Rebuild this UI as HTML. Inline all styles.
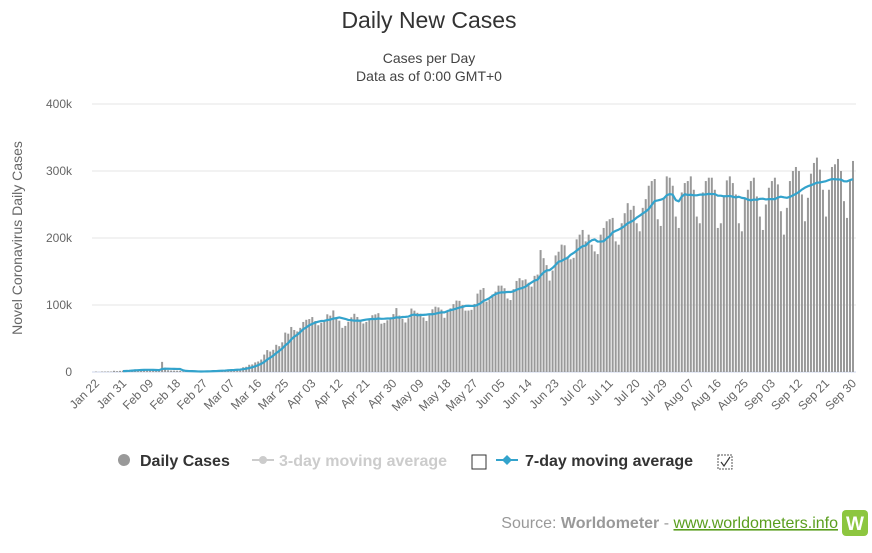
<!DOCTYPE html>
<html><head><meta charset="utf-8"><style>
body{margin:0;background:#fff;font-family:"Liberation Sans",sans-serif;}
svg text{font-family:"Liberation Sans",sans-serif;}
</style></head><body>
<svg id="chart" width="872" height="548" viewBox="0 0 872 548" xmlns="http://www.w3.org/2000/svg">
<text x="429" y="28" text-anchor="middle" font-size="23" fill="#333">Daily New Cases</text>
<text x="429" y="63" text-anchor="middle" font-size="14" fill="#444">Cases per Day</text>
<text x="429" y="81" text-anchor="middle" font-size="14" fill="#444">Data as of 0:00 GMT+0</text>
<text transform="translate(22,238) rotate(-90)" text-anchor="middle" font-size="14" fill="#666">Novel Coronavirus Daily Cases</text>
<g id="grid"></g><g id="bars"></g><g id="line"></g><g id="xlabels"></g>
<g>
<g><circle cx="124" cy="460" r="6" fill="#999"/><text x="140" y="466" font-size="16" font-weight="bold" fill="#333">Daily Cases</text></g>
<g><line x1="252" y1="460" x2="274" y2="460" stroke="#ccc" stroke-width="2"/><circle cx="263" cy="460" r="4" fill="#ccc"/><text x="279" y="466" font-size="16" font-weight="bold" fill="#ccc">3-day moving average</text></g>
<rect x="472" y="455" width="14" height="14" fill="#fff" stroke="#333" stroke-width="1"/>
<g><line x1="496" y1="460" x2="518" y2="460" stroke="#33a3cc" stroke-width="2"/><path d="M507 455 L512 460 L507 465 L502 460Z" fill="#33a3cc"/><text x="525" y="466" font-size="16" font-weight="bold" fill="#333">7-day moving average</text></g>
<g><rect x="718" y="455" width="14" height="14" fill="#fff" stroke="#555" stroke-dasharray="2,1"/><path d="M721 462 L724 466 L730 457" stroke="#333" fill="none" stroke-width="1.2"/></g>
</g>
<text x="838" y="528" text-anchor="end" font-size="16" fill="#999">Source: <tspan font-weight="bold">Worldometer</tspan> - <tspan fill="#5a9e1e" text-decoration="underline">www.worldometers.info</tspan></text>
<g><rect x="842" y="510" width="26" height="26" rx="4" fill="#8dc63f"/><text x="855" y="530" text-anchor="middle" font-size="19" font-weight="bold" fill="#fff">W</text></g>
</svg>
<script>
const yTicks=[0,100,200,300,400];
const yTickLabels=["0","100k","200k","300k","400k"];
const xTickLabels=["Jan 22","Jan 31","Feb 09","Feb 18","Feb 27","Mar 07","Mar 16","Mar 25","Apr 03","Apr 12","Apr 21","Apr 30","May 09","May 18","May 27","Jun 05","Jun 14","Jun 23","Jul 02","Jul 11","Jul 20","Jul 29","Aug 07","Aug 16","Aug 25","Sep 03","Sep 12","Sep 21","Sep 30"];
const dailyCases=[
0.6,0.1,0.7,0.7,0.8,0.7,1.8,1.3,1.7,2.0,
2.1,2.6,3.2,3.9,3.7,3.2,3.4,2.7,3.0,2.6,2.5,2.0,15.1,6.5,2.6,2.1,2.0,1.9,1.8,0.6,0.5,1.0,1.0,0.7,0.5,0.9,1.1,1.3,1.9,
2.4,1.8,2.5,2.6,2.7,3.9,3.9,3.7,3.9,4.5,7.1,7.8,10.8,11.3,14.3,15.7,18.6,26.0,32.7,30.5,33.1,40.6,38.5,44.3,58.8,57.2,67.2,62.7,60.5,65.9,74.7,
77.9,79.0,82.0,76.1,69.8,73.5,76.1,86.1,84.1,91.9,81.5,76.6,65.9,68.8,75.0,81.6,86.9,82.1,75.3,72.4,74.7,78.2,84.7,86.0,87.8,72.1,73.3,77.2,79.2,86.4,
95.4,84.2,79.6,73.9,80.3,94.7,91.6,88.3,87.0,81.4,76.2,84.9,93.6,97.5,96.4,93.1,80.9,89.8,95.0,101.3,106.6,106.2,100.1,91.6,91.7,92.8,101.6,117.0,122.7,125.3,104.9,
108.4,115.7,120.0,128.9,128.9,125.0,109.7,107.4,123.6,135.9,140.0,136.9,138.3,133.2,127.4,143.5,145.4,182.0,169.9,159.5,136.4,151.4,174.0,179.5,190.1,189.1,172.3,168.2,170.4,198.0,
205,212,195,205,190,180,176,205,215,225,228,230,195,190,222,237,252,242,248,222,210,245,258,278,285,288,228,218,258,292,290,
278,232,215,268,282,285,292,272,232,222,268,285,290,290,272,215,222,262,286,292,282,265,222,210,258,272,285,290,262,232,212,
250,275,285,290,280,240,205,245,285,300,306,300,265,225,260,296,312,320,302,272,232,272,306,310,318,300,255,230,286,315];
const N=dailyCases.length;
const X0=96,X1=853,Y0=372,Y1=104;
function xOf(i){return X0+i*(X1-X0)/(N-1);}
function yOf(v){return Y0-(v/400)*(Y0-Y1);}
const NS="http://www.w3.org/2000/svg";
function mk(t,a,p){const e=document.createElementNS(NS,t);for(const k in a)e.setAttribute(k,a[k]);document.getElementById(p).appendChild(e);return e;}
yTicks.forEach((t,i)=>{
 const l=mk("line",{x1:92,x2:856,y1:yOf(t),y2:yOf(t),stroke:i==0?"#ccd6eb":"#e6e6e6","stroke-width":1},"grid");
 
 
 const tx=mk("text",{x:72,y:yOf(t)+4,"text-anchor":"end","font-size":12,fill:"#666"},"grid");
 tx.textContent=yTickLabels[i];
 
 
});
dailyCases.forEach((v,i)=>{
 const r=mk("rect",{x:xOf(i)-1,y:yOf(v),width:2,height:Y0-yOf(v),fill:"#999"},"bars");
 
 
});
let pts=[];
for(let i=9;i<N;i++){let s=0,c=0;for(let j=Math.max(0,i-6);j<=i;j++){s+=dailyCases[j];c++;}pts.push(xOf(i)+","+yOf(s/c));}
const pl=mk("polyline",{points:pts.join(" "),fill:"none",stroke:"#33a3cc","stroke-width":2.2,"stroke-linejoin":"round"},"line");


xTickLabels.forEach((lab,k)=>{
 const x=xOf(k*9);
 const t=mk("text",{transform:`translate(${x+4},${384}) rotate(-45)`,"text-anchor":"end","font-size":12,fill:"#666"},"xlabels");
 t.textContent=lab;
 
 
});
</script>
</body></html>
